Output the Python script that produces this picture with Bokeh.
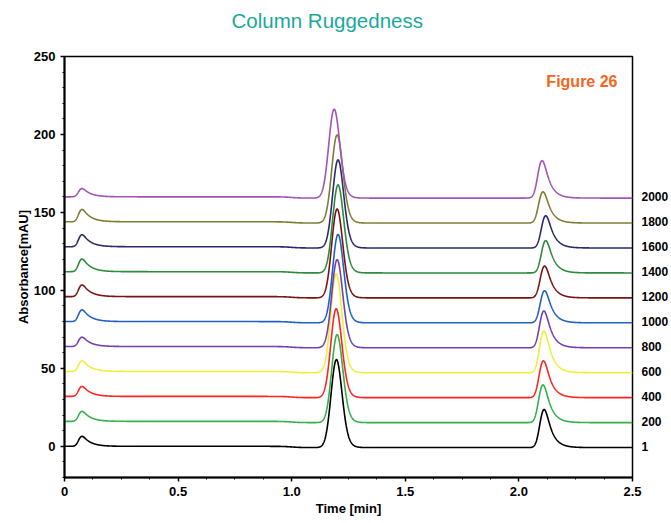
import math
import numpy as np
from bokeh.plotting import figure
from bokeh.models import Range1d, LinearAxis, FixedTicker, Label, Title
from bokeh.embed import file_html
from bokeh.resources import INLINE

# ---- data ----
flow_labels = ["1", "200", "400", "600", "800", "1000", "1200", "1400", "1600", "1800", "2000"]
baselines = [0, 16, 32, 48, 64, 80, 96, 112, 128, 144, 160]
colors = ["#000000", "#33b04a", "#ff2424", "#eeee3c", "#7340b0", "#2160c4",
          "#7a1414", "#2e8a3c", "#2b2b6b", "#7d7d32", "#a353b3"]

# small early peak
p1_time = [0.077] * 11
p1_height = [6.4, 6.4, 6.4, 6.8, 6.0, 7.5, 7.5, 8.1, 7.7, 7.9, 5.3]
# main peak
p2_time = [1.197, 1.200, 1.196, 1.196, 1.200, 1.204, 1.200, 1.204, 1.204, 1.200, 1.187]
p2_height = [56.4, 56.4, 57.0, 63.5, 56.5, 56.7, 57.0, 56.5, 56.5, 56.5, 57.0]
# late peak
p3_time = [2.111, 2.106, 2.108, 2.110, 2.110, 2.113, 2.113, 2.118, 2.118, 2.106, 2.102]
p3_height = [24.4, 24.2, 23.6, 26.8, 23.6, 20.6, 20.4, 20.7, 20.7, 20.0, 24.0]

# ---- peak model (exponentially modified gaussian, mode placed at read time) ----
t = np.linspace(0, 2.5, 2501)
erfc = np.vectorize(math.erfc)


def emg(x, sigma, tau):
    z = sigma / tau - x / sigma
    return np.exp(sigma ** 2 / (2 * tau ** 2) - x / tau) * erfc(z / math.sqrt(2))


def peak(tm, h, sigma, tau):
    grid = np.linspace(-0.3, 0.3, 6001)
    g = emg(grid, sigma, tau)
    mode = grid[np.argmax(g)]
    y = emg(t - (tm - mode), sigma, tau)
    return h * y / g.max()


p = figure(width=671, height=523, output_backend="svg", toolbar_location=None,
           x_range=Range1d(0, 2.5), y_range=Range1d(-20, 250),
           min_border_left=64, min_border_right=37, min_border_top=56, min_border_bottom=46)

for i in range(11):
    y = np.full_like(t, float(baselines[i]))
    y += peak(p1_time[i], p1_height[i], 0.011, 0.034)
    y += peak(p2_time[i], p2_height[i], 0.022, 0.013)
    y += peak(p3_time[i], p3_height[i], 0.015, 0.028)
    y -= 0.8 * (1 + np.tanh((t - 1.0) / 0.04)) / 2
    p.line(t, y, line_color=colors[i], line_width=1.6)

font = "Liberation Sans"

# blank spacer panel between frame and title, pushes the title upward
spacer = Title(text=" ", text_font_size="10px", standoff=10)
p.add_layout(spacer, "above")

p.title.text = "Column Ruggedness"
p.title.text_font = font
p.title.text_font_size = "20.5px"
p.title.text_font_style = "normal"
p.title.text_color = "#1aa99a"
p.title.align = "left"
p.title.offset = 167
p.title.standoff = 4

p.xgrid.visible = False
p.ygrid.visible = False
p.outline_line_color = "black"
p.outline_line_width = 1.5
p.background_fill_color = "white"
p.border_fill_color = "white"

xa = p.xaxis[0]
xa.ticker = FixedTicker(ticks=[0, 0.5, 1, 1.5, 2, 2.5], minor_ticks=list(np.arange(0, 2.5001, 0.125)))
xa.major_label_overrides = {0: "0", 0.5: "0.5", 1: "1.0", 1.5: "1.5", 2: "2.0", 2.5: "2.5"}
xa.axis_label = "Time [min]"

ya = p.yaxis[0]
ya.ticker = FixedTicker(ticks=[0, 50, 100, 150, 200, 250], minor_ticks=list(range(-20, 251, 10)))
ya.axis_label = "Absorbance[mAU]"

for ax in (xa, ya):
    ax.axis_line_color = "black"
    ax.axis_line_width = 2
    ax.major_tick_line_color = "black"
    ax.minor_tick_line_color = "black"
    ax.major_tick_line_width = 1.5
    ax.minor_tick_line_width = 1
    ax.major_tick_out = 4
    ax.major_tick_in = 0
    ax.minor_tick_out = 2
    ax.minor_tick_in = 0
    ax.major_label_text_font = font
    ax.major_label_text_font_style = "bold"
    ax.major_label_text_font_size = "13px"
    ax.major_label_text_color = "black"
    ax.axis_label_text_font = font
    ax.axis_label_text_font_style = "bold"
    ax.axis_label_text_font_size = "13px"
    ax.axis_label_text_color = "black"

xa.major_label_standoff = 5
xa.axis_label_standoff = 2
ya.major_label_standoff = 5
ya.axis_label_standoff = 0

ra = LinearAxis(ticker=FixedTicker(ticks=baselines, minor_ticks=[]),
                major_label_overrides={b: s for b, s in zip(baselines, flow_labels)})
ra.axis_line_color = None
ra.major_tick_line_color = None
ra.minor_tick_line_color = None
ra.major_tick_out = 0
ra.major_tick_in = 0
ra.major_label_standoff = 9
ra.major_label_text_font = font
ra.major_label_text_font_style = "bold"
ra.major_label_text_font_size = "12px"
ra.major_label_text_color = "black"
p.add_layout(ra, "right")

p.add_layout(Label(x=2.434, y=234, text="Figure 26", text_align="right", text_baseline="middle",
                   text_font=font, text_font_style="bold", text_font_size="16px",
                   text_color="#f26522"))

open("out.html", "w").write(file_html(p, INLINE))
